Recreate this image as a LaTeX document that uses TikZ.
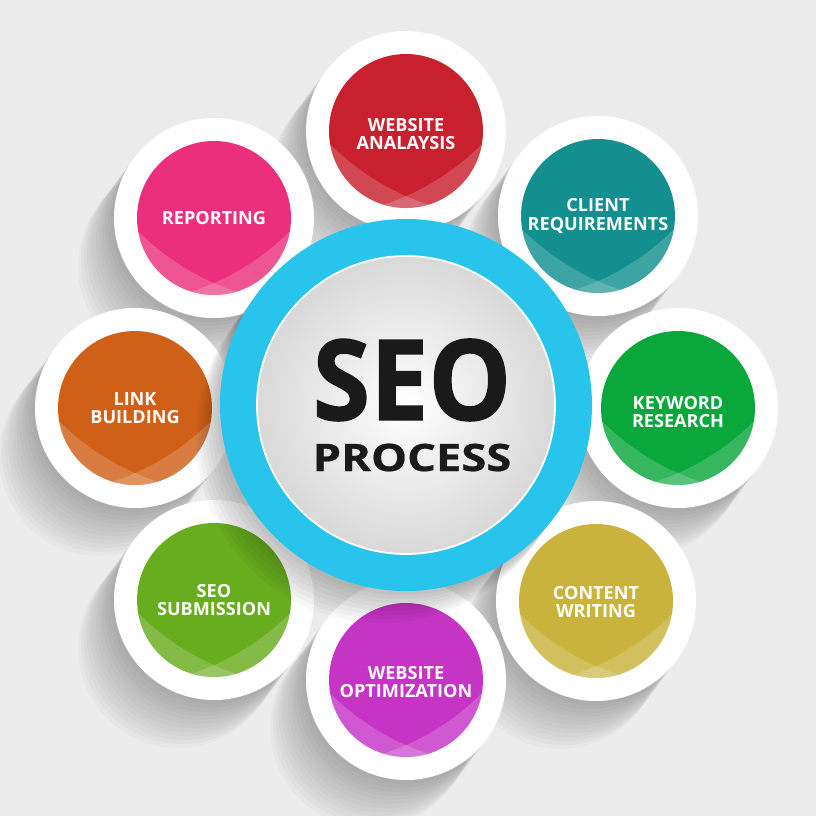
\documentclass[tikz,border=0pt]{standalone}
\usepackage{fontspec}
\setmainfont{Open Sans}
\newfontfamily\seofont[FakeStretch=0.93,FakeBold=1.2]{Open Sans}
\newfontfamily\procfont[FakeStretch=1.2,FakeBold=0.6]{Open Sans}
\usepackage{tikz}
\usetikzlibrary{calc}
\usetikzlibrary{backgrounds}
\definecolor{bg}{RGB}{236,236,236}
\definecolor{cyanring}{RGB}{41,196,236}
\definecolor{cWeb}{RGB}{200,32,46}
\definecolor{cClient}{RGB}{19,143,143}
\definecolor{cKey}{RGB}{10,168,60}
\definecolor{cContent}{RGB}{201,179,60}
\definecolor{cOpt}{RGB}{198,52,198}
\definecolor{cSub}{RGB}{104,173,30}
\definecolor{cLink}{RGB}{208,96,24}
\definecolor{cRep}{RGB}{236,47,124}
\definecolor{seoblack}{RGB}{26,26,26}

\begin{document}
\begin{tikzpicture}[x=0.02cm, y=-0.02cm,
every node/.style={text=white, align=center, inner sep=0pt},
tag/.style={font=\bfseries\fontsize{10.3}{10.3}\selectfont},
drop/.style={black, opacity=0.022}]

\useasboundingbox (0,0) rectangle (816,816);
\fill[bg] (0,0) rectangle (816,816);

% soft shadows to the lower left
\foreach \p in {(406,131), (598,216), (678,408), (596,601), (406,680), (214,600), (135,408), (214,218)}
 \foreach \k in {1,...,12}
 { \fill[drop, shift={\p}] (-3*\k,4*\k) circle (100); }

% white rings and coloured discs
\foreach \x/\y/\c in {406/131/cWeb, 598/216/cClient, 678/408/cKey, 596/601/cContent,
   406/680/cOpt, 214/600/cSub, 135/408/cLink, 214/218/cRep}
 {
 \begin{scope}[shift={(\x,\y)}]
 \fill[white] (0,0) circle (100);
 \fill[\c] (0,0) circle (77);
 \clip (0,0) circle (77);
 \fill[white, opacity=0.18, even odd rule] (-80,-80) rectangle (80,80) (100,-163) circle (249);
 \fill[white, opacity=0.18, even odd rule] (-80,-80) rectangle (80,80) (-100,-163) circle (249);
 \end{scope}
 }

% shadow of the centre ring
\foreach \k in {1,...,8}
 { \fill[black, opacity=0.03, shift={(406,405)}] (-3*\k,4*\k) circle (186); }

\fill[cyanring] (406,405) circle (186);
\shade[inner color=white, outer color=gray!30, draw=white, line width=1pt] (406,405) circle (149);

\foreach \x/\y/\n/\t in {406/134/web/{WEBSITE\\ANALAYSIS}, 598/216/client/{CLIENT\\REQUIREMENTS},
   678/412/key/{KEYWORD\\RESEARCH}, 596/602/content/{CONTENT\\WRITING},
   406/682/opt/{WEBSITE\\OPTIMIZATION}, 214/600/sub/{SEO\\SUBMISSION},
   135/408/link/{LINK\\BUILDING}, 214/218/rep/{REPORTING}}
 { \node[tag] (\n) at (\x,\y) {\t}; }

\node[text=seoblack, text depth=0pt, anchor=base, font=\seofont\bfseries\fontsize{63.7}{64}\selectfont] (seo) at (412,420) {SEO};
\node[text=seoblack, text depth=0pt, anchor=base, font=\procfont\bfseries\fontsize{21.5}{22}\selectfont] (process) at (412,471) {PROCESS};

\end{tikzpicture}
\end{document}
